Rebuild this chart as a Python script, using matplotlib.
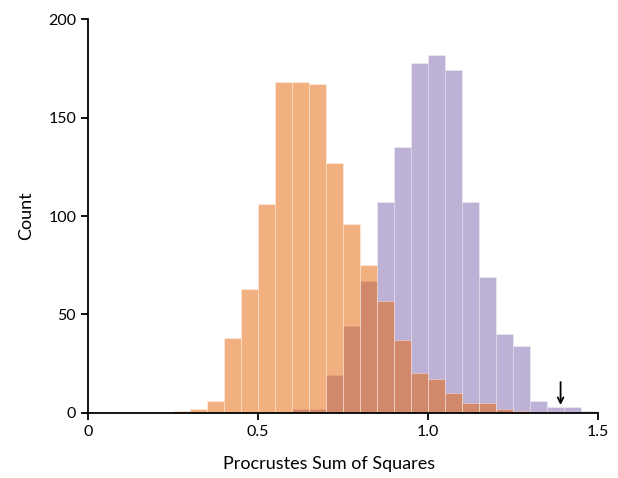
import matplotlib
matplotlib.use('Agg')
import matplotlib.pyplot as plt
import numpy as np

# bin left edges (width 0.05) and counts
orange_bins = [0.25, 0.30, 0.35, 0.40, 0.45, 0.50, 0.55, 0.60, 0.65, 0.70, 0.75,
               0.80, 0.85, 0.90, 0.95, 1.00, 1.05, 1.10, 1.15, 1.20, 1.25]
orange_counts = [1, 2, 6, 38, 63, 106, 168, 168, 167, 127, 96,
                 75, 57, 37, 20, 17, 10, 5, 5, 2, 1]

purple_bins = [0.60, 0.65, 0.70, 0.75, 0.80, 0.85, 0.90, 0.95, 1.00, 1.05,
               1.10, 1.15, 1.20, 1.25, 1.30, 1.35, 1.40, 1.45]
purple_counts = [2, 2, 19, 44, 67, 107, 135, 178, 182, 174,
                 107, 69, 40, 34, 6, 3, 3, 1]

observed = 1.39
xticks = [0, 0.5, 1.0, 1.5]
xticklabels = ['0', '0.5', '1.0', '1.5']
yticks = [0, 50, 100, 150, 200]

plt.rcParams['font.family'] = ['Lato', 'DejaVu Sans']

fig = plt.figure(figsize=(6.18, 4.78), dpi=100)
ax = fig.add_axes([0.1424, 0.1366, 0.8252, 0.823])

binw = 0.05
ax.bar(purple_bins, purple_counts, width=binw, align='edge', color='#5e3c99',
       alpha=0.4, edgecolor=(1, 1, 1, 0.12), linewidth=0.5)
ax.bar(orange_bins, orange_counts, width=binw, align='edge', color='#e66101',
       alpha=0.5, edgecolor=(1, 1, 1, 0.12), linewidth=0.5)

ax.annotate('', xy=(observed, 2.5), xytext=(observed, 17),
            arrowprops=dict(arrowstyle='->', color='black', lw=1.3))

ax.set_xlim(0, 1.5)
ax.set_ylim(0, 200)
ax.set_xticks(xticks)
ax.set_xticklabels(xticklabels)
ax.set_yticks(yticks)
for s in ['top', 'right']:
    ax.spines[s].set_visible(False)
for s in ['left', 'bottom']:
    ax.spines[s].set_linewidth(1.3)
ax.tick_params(axis='both', labelsize=11.5, width=1.3, length=5, direction='out')
ax.set_xlabel('Procrustes Sum of Squares', fontsize=13)
ax.xaxis.set_label_coords(0.4735, -0.11)
ax.set_ylabel('Count', fontsize=13, labelpad=10)

fig.savefig('out.png', dpi=100)
